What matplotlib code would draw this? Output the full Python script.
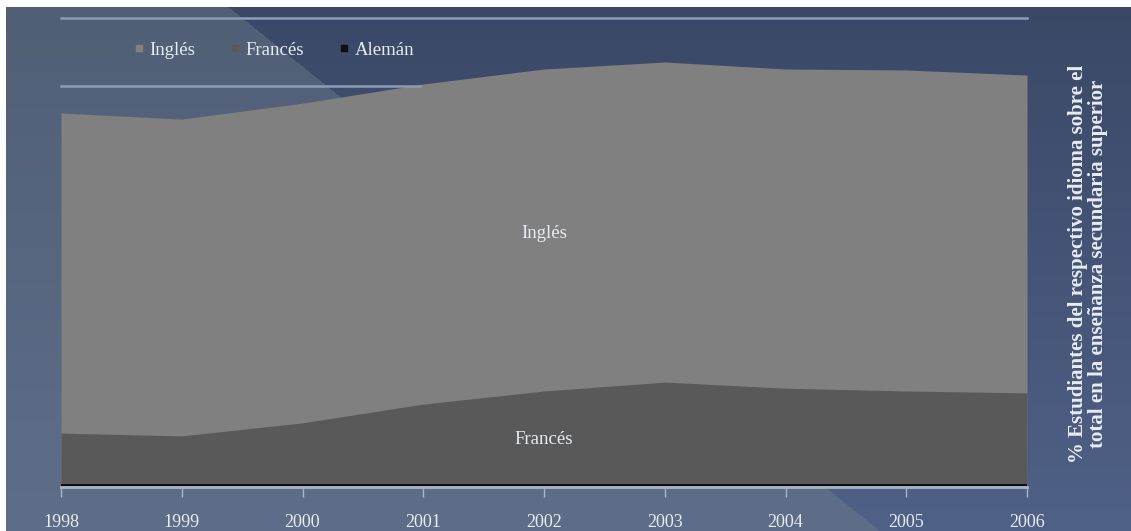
import matplotlib
matplotlib.use("Agg")
import matplotlib.pyplot as plt
from matplotlib.lines import Line2D
import numpy as np

# % of students per language
years = [1998, 1999, 2000, 2001, 2002, 2003, 2004, 2005, 2006]
ingles = [79.7, 78.4, 81.8, 85.9, 89.1, 90.6, 89.1, 88.9, 87.8]
frances = [11.3, 10.7, 13.5, 17.5, 20.3, 22.2, 20.9, 20.3, 19.9]
aleman = [0.5, 0.5, 0.5, 0.5, 0.5, 0.5, 0.5, 0.5, 0.5]
tick_labels = [str(y) for y in years]

C_ING = "#808080"
C_FRA = "#595959"
C_ALE = "#0d0f14"
TXT = "#e8ecf3"
SERIF = ["Liberation Serif", "DejaVu Serif"]

W, H = 1131, 531
fig = plt.figure(figsize=(W / 100, H / 100), dpi=100)

# background: two tones split by a diagonal, each with a soft vertical gradient
bg_ax = fig.add_axes([0, 0, 1, 1], zorder=0)
yy, xx = np.mgrid[0:H, 0:W]
t = (yy / H)[..., None]
light = np.array([80, 95, 118]) * (1 - t) + np.array([94, 110, 137]) * t
dark = np.array([58, 72, 102]) * (1 - t) + np.array([80, 97, 135]) * t
diag_x = 220 + yy * (660 / 531)
img = np.where((xx < diag_x)[..., None], light, dark) / 255.0
img[:7, :, :] = 1.0
img[:, :6, :] = 1.0
bg_ax.imshow(img, aspect="auto", extent=[0, W, H, 0])
bg_ax.set_xlim(0, W)
bg_ax.set_ylim(H, 0)
bg_ax.axis("off")

# main plot area: 1998 at x=61, 2006 at x=1027, baseline y=486, 100% at y=18
left, right, bottom, top = 61, 1027, 486, 18
ax = fig.add_axes([left / W, 1 - bottom / H, (right - left) / W, (bottom - top) / H], zorder=1)
ax.patch.set_alpha(0)

ax.fill_between(years, 0, ingles, color=C_ING, lw=0)
ax.fill_between(years, 0, frances, color=C_FRA, lw=0)
ax.fill_between(years, 0, aleman, color=C_ALE, lw=0)

# spine position resets the ticks, so do it first
for s in ["left", "right", "top"]:
    ax.spines[s].set_visible(False)
ax.spines["bottom"].set_color("#aab4c6")
ax.spines["bottom"].set_linewidth(2)
ax.spines["bottom"].set_position(("outward", 1))

ax.set_xlim(years[0], years[-1])
ax.set_ylim(0, 100)
ax.set_yticks([])
ax.set_xticks(years)
ax.tick_params(axis="x", direction="out", length=7, width=1, color="#aab4c6",
               pad=12, labelcolor=TXT, labelsize=13)
ax.set_xticklabels(tick_labels, fontfamily=SERIF)

ax.text(2002, 54, "Inglés", ha="center", va="center", family=SERIF, fontsize=13.5, color=TXT)
ax.text(2002, 10, "Francés", ha="center", va="center", family=SERIF, fontsize=13.5, color=TXT)

# legend with the two rule lines around it
fig.add_artist(Line2D([left / W, right / W], [1 - 18 / H] * 2, color="#8e9cb5", lw=1.8, zorder=2))
fig.add_artist(Line2D([left / W, 420 / W], [1 - 86 / H] * 2, color="#8e9cb5", lw=1.8, zorder=2))
handles = [Line2D([], [], marker="s", ls="", color=c, markersize=5) for c in (C_ING, C_FRA, C_ALE)]
leg = fig.legend(handles, ["Inglés", "Francés", "Alemán"], loc="center",
                 bbox_to_anchor=(274 / W, 1 - 50 / H), ncol=3, frameon=False,
                 handlelength=0.5, handletextpad=0.3, columnspacing=1.9,
                 prop={"family": SERIF, "size": 13.5})
for txt in leg.get_texts():
    txt.set_color(TXT)

# right-hand axis title
fig.text(1088 / W, 1 - 264 / H,
         "% Estudiantes del respectivo idioma sobre el\ntotal en la enseñanza secundaria superior",
         rotation=90, ha="center", va="center", family=SERIF, fontsize=15,
         fontweight="bold", color=TXT, linespacing=0.95, zorder=2)

fig.savefig("out.png", dpi=100)
